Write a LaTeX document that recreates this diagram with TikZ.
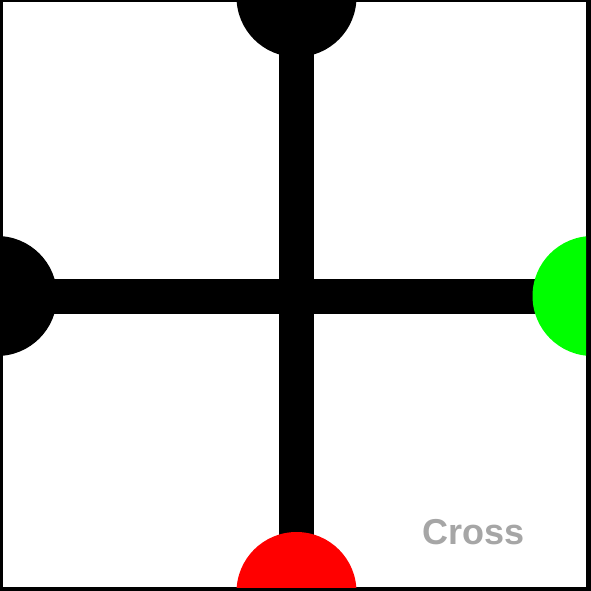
\documentclass[tikz,border=0pt]{standalone}
\usepackage{fontspec}
\setmainfont{Liberation Sans}
\pgfdeclarelayer{frame}
\pgfdeclarelayer{front}
\pgfsetlayers{frame,main,front}
\definecolor{puregreen}{RGB}{0,255,0}
\definecolor{purered}{RGB}{255,0,0}
\definecolor{labelgray}{RGB}{166,166,166}
\begin{document}
\begin{tikzpicture}[x=1pt,y=-1pt,
  endcap/.style={circle,inner sep=0pt,minimum size=120pt,draw=none},
  barline/.style={line width=35pt,black}]
\useasboundingbox (0,0) rectangle (591,591);
\begin{pgfonlayer}{frame}
\fill[black] (0,0) rectangle (591,591);
\fill[white] (3,2) rectangle (586,587);
\end{pgfonlayer}
\begin{pgfonlayer}{front}
\begin{scope}
\clip (3,2) rectangle (586,587);
\node[endcap,fill=black] (top) at (296.5,-3) {};
\node[endcap,fill=black] (left) at (-3,296) {};
\node[endcap,fill=puregreen] (right) at (592.5,296) {};
\node[endcap,fill=purered] (bottom) at (296.5,592) {};
\end{scope}
\end{pgfonlayer}
\begin{scope}
\clip (3,2) rectangle (586,587);
\draw[barline] (top.center) -- (bottom.center);
\draw[barline] (left.center) -- (right.center);
\end{scope}
\node[text=labelgray,font=\bfseries\fontsize{36}{36}\selectfont,inner sep=0pt] (label) at (473.5,532.5) {Cross};
\end{tikzpicture}
\end{document}
